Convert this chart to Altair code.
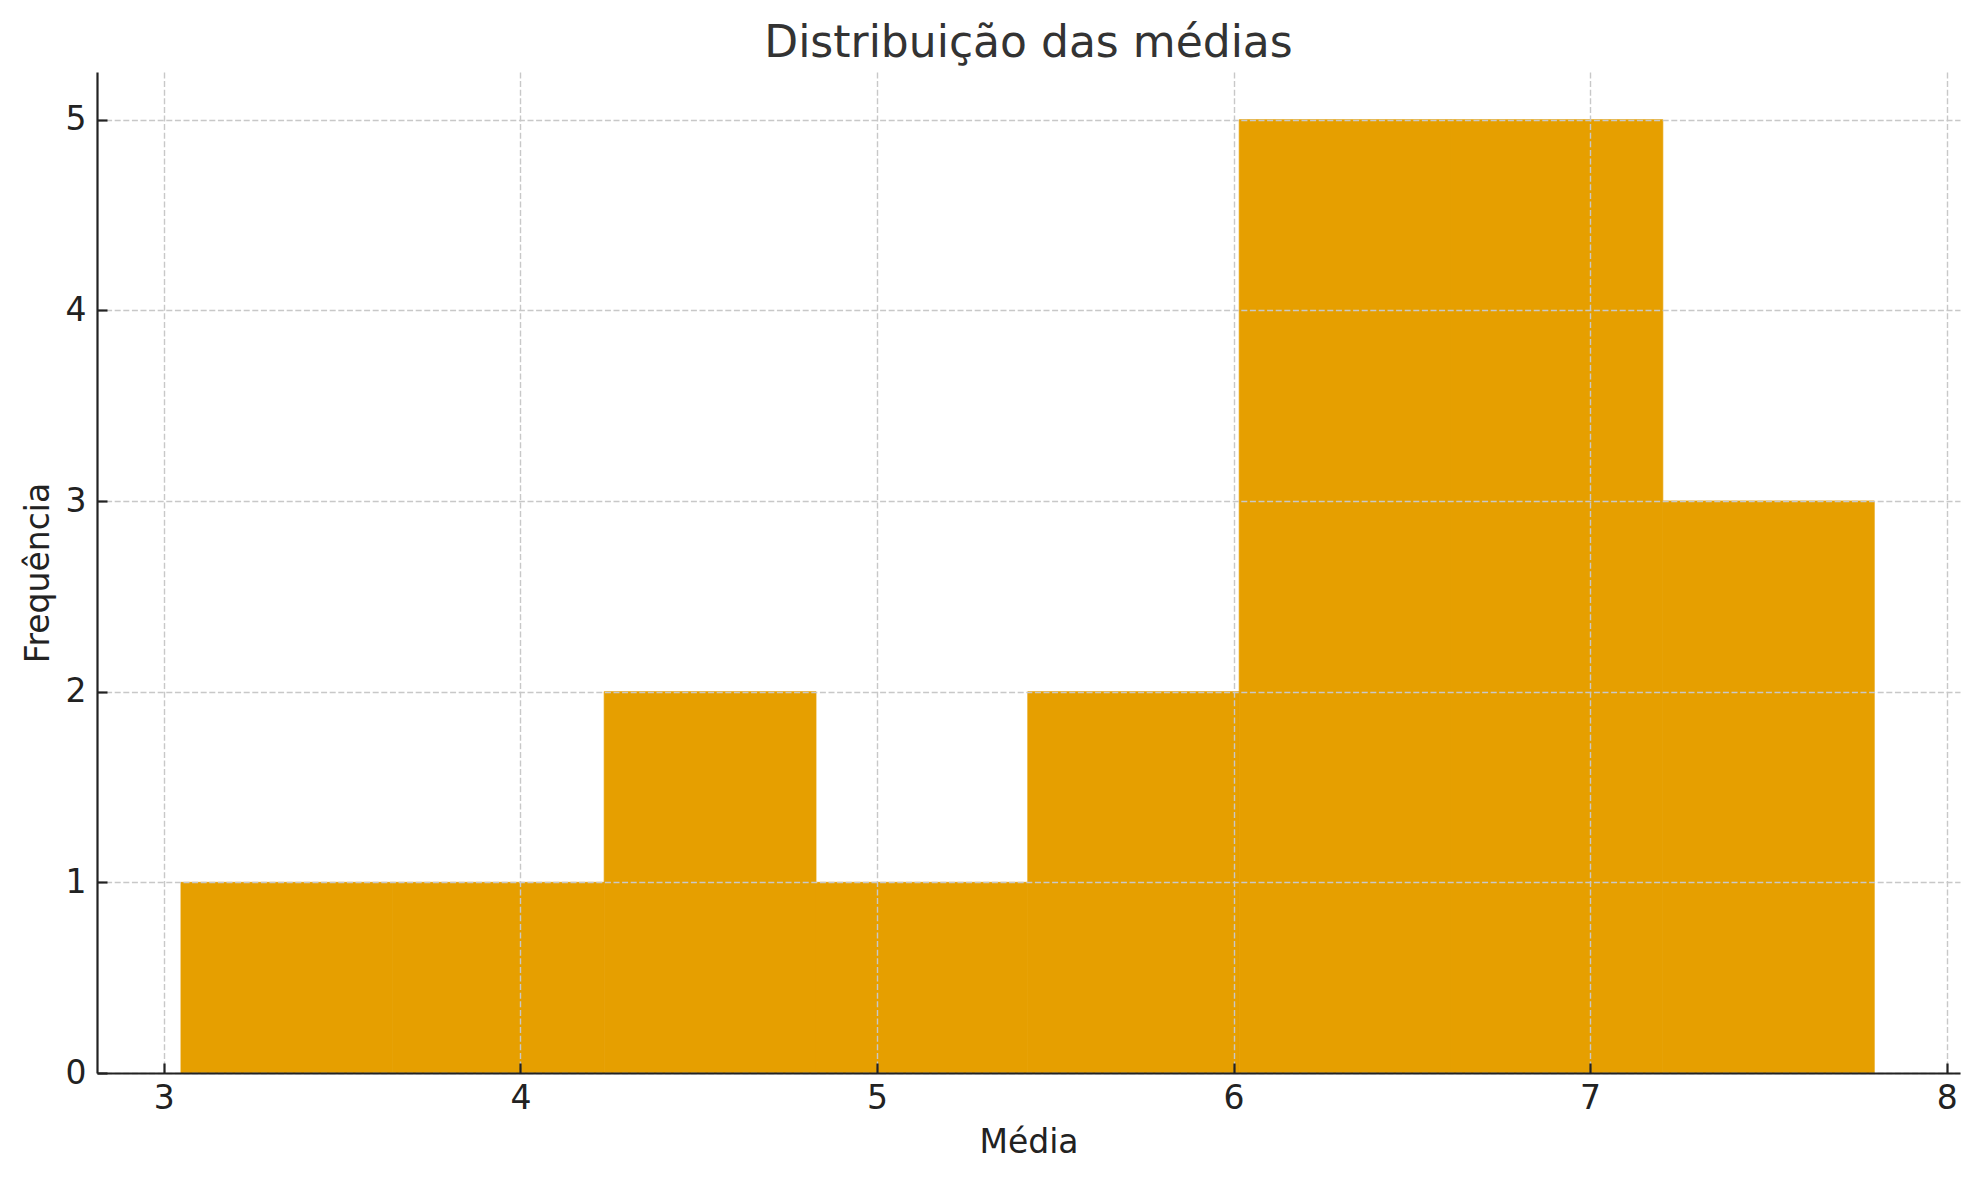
import altair as alt
import pandas as pd

# Histogram bins
bin_start = [3.048, 3.642, 4.235, 4.829, 5.423, 6.016, 6.610, 7.204]
bin_end = [3.642, 4.235, 4.829, 5.423, 6.016, 6.610, 7.204, 7.797]
counts = [1, 1, 2, 1, 2, 5, 5, 3]

x_ticks = [3, 4, 5, 6, 7, 8]
y_ticks = [0, 1, 2, 3, 4, 5]

df = pd.DataFrame({"start": bin_start, "end": bin_end, "count": counts})

FONT = "DejaVu Sans"
BAR = "#E69F00"
x_scale = alt.Scale(domain=[2.8125, 8.0375], nice=False, zero=False)
y_scale = alt.Scale(domain=[0, 5.25], nice=False, zero=True)

base = alt.Chart(df)

bars = base.mark_bar(color=BAR, stroke=BAR, strokeWidth=0.8, opacity=1, fillOpacity=1, strokeOpacity=1).encode(
    x=alt.X(
        "start:Q",
        scale=x_scale,
        axis=alt.Axis(
            values=x_ticks,
            format="d",
            title="Média",
            titleFont=FONT,
            titleFontSize=33,
            titleFontWeight="normal",
            titleColor="#222222",
            titleBaseline="alphabetic",
            titleY=79,
            labelFont=FONT,
            labelFontSize=33,
            labelColor="#222222",
            labelBaseline="alphabetic",
            labelPadding=35,
            ticks=False,
            tickSize=0,
            domain=True,
            domainColor="#222222",
            domainWidth=2.2,
            grid=True,
            gridColor="#c8c8c8",
            gridWidth=1.4,
            gridDash=[6, 2.6],
            zindex=1,
        ),
    ),
    x2="end:Q",
    y=alt.Y(
        "count:Q",
        scale=y_scale,
        axis=alt.Axis(
            values=y_ticks,
            format="d",
            title="Frequência",
            titleFont=FONT,
            titleFontSize=33,
            titleFontWeight="normal",
            titleColor="#222222",
            titleBaseline="alphabetic",
            titleX=-49,
            labelFont=FONT,
            labelFontSize=33,
            labelColor="#222222",
            labelBaseline="middle",
            labelPadding=11,
            ticks=False,
            tickSize=0,
            domain=True,
            domainColor="#222222",
            domainWidth=2.2,
            grid=True,
            gridColor="#c8c8c8",
            gridWidth=1.4,
            gridDash=[6, 2.6],
            zindex=1,
        ),
    ),
    y2=alt.datum(0),
)

# Invisible layer that carries inward-pointing tick marks
tick_layer = base.mark_bar(opacity=0).encode(
    x=alt.X(
        "start:Q",
        scale=x_scale,
        axis=alt.Axis(
            orient="bottom",
            values=x_ticks,
            offset=-10,
            tickSize=10,
            tickWidth=2.2,
            tickColor="#222222",
            labels=False,
            domain=False,
            grid=False,
            title=None,
            zindex=2,
        ),
    ),
    x2="end:Q",
    y=alt.Y(
        "count:Q",
        scale=y_scale,
        axis=alt.Axis(
            orient="left",
            values=y_ticks,
            offset=-10,
            tickSize=10,
            tickWidth=2.2,
            tickColor="#222222",
            labels=False,
            domain=False,
            grid=False,
            title=None,
            zindex=2,
        ),
    ),
    y2=alt.datum(0),
)

chart = (
    alt.layer(bars, tick_layer)
    .resolve_axis(x="independent", y="independent")
    .properties(
        width=1863,
        height=1001,
        background="white",
        autosize=alt.AutoSizeParams(type="none"),
        padding={"left": 89, "top": 64, "right": 10, "bottom": 90},
        title=alt.TitleParams(
            text="Distribuição das médias",
            font=FONT,
            fontSize=44,
            fontWeight="normal",
            color="#333333",
            anchor="middle",
            offset=6,
        ),
    )
    .configure_view(strokeWidth=0, stroke="transparent")
)

chart.save("out.html", embed_options={"renderer": "svg", "actions": False})
